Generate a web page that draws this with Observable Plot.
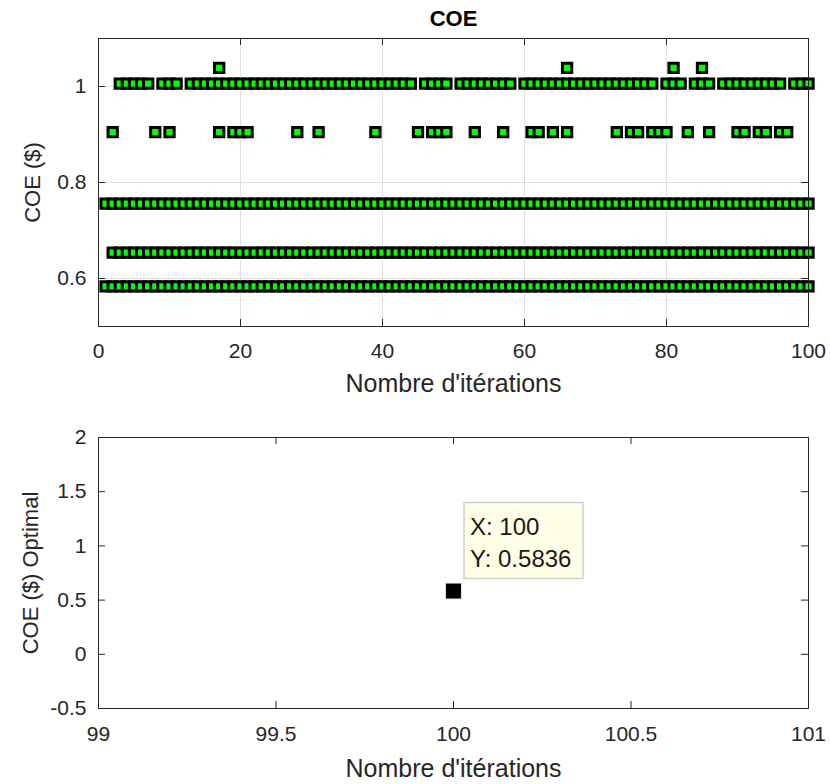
<!DOCTYPE html>
<html><head><meta charset="utf-8">
<script src="https://cdn.jsdelivr.net/npm/d3@7"></script>
<script src="https://cdn.jsdelivr.net/npm/@observablehq/plot@0.6"></script>
<style>
body{margin:0;background:#fff;}
#chart{width:830px;height:784px;position:relative;font-family:"Liberation Sans",Arial,sans-serif;}
#chart svg{display:block;}
</style></head><body><div id="chart"></div>
<script>
// ---- data ----
const allIterations = d3.range(1, 101); // x categories 1..100
const rowValues = [1.039, 1.006, 0.905, 0.756, 0.654, 0.5836];
const itersRow1039 = [17, 66, 81, 85];
const itersRow1006 = [3,4,5,6,7, 9,10,11, 13,14,15,16,17,18,19,20,21,22,23,24,25,26,27,28,29,30,31,32,33,34,35,36,37,38,39,40,41,42,43,44,
  46,47,48,49, 51,52,53,54,55,56,57,58, 60,61,62,63,64,65,66,67,68,69,70,71,72,73,74,75,76,77,78,
  80,81,82, 84,85,86, 88,89,90,91,92,93,94,95,96, 98,99,100];
const itersRow0905 = [2,8,10,17,19,20,21,28,31,39,45,47,48,49,53,57,61,62,64,66,73,75,76,78,79,80,83,86,90,91,93,94,96,97];
const itersRow0756 = allIterations;
const itersRow0654 = allIterations.filter(i => i !== 1);
const itersRow05836 = allIterations;
const optX = [100];
const optY = [0.5836];
const topXTicks = [0, 20, 40, 60, 80, 100];
const topYTicks = [0.6, 0.8, 1];
const botXTicks = [99, 99.5, 100, 100.5, 101];
const botYTicks = [-0.5, 0, 0.5, 1, 1.5, 2];
const xLabel = "Nombre d'itérations";
const topYLabel = "COE ($)";
const botYLabel = "COE ($) Optimal";
const titleText = "COE";

// ---- build table ----
const rows = [itersRow1039, itersRow1006, itersRow0905, itersRow0756, itersRow0654, itersRow05836];
const points = [];
rows.forEach((its, k) => its.forEach(i => points.push({x: i, y: rowValues[k]})));

const INK = "#262626";
const FONT = "'Liberation Sans', Arial, Helvetica, sans-serif";
const fmt = d => String(d);
const TICKFS = 21;

function boxTicks(xt, yt, innerW, innerH, len) {
  return [
    Plot.tickX(xt, {x: d => d, insetTop: innerH - len, stroke: INK}),
    Plot.tickX(xt, {x: d => d, insetBottom: innerH - len, stroke: INK}),
    Plot.tickY(yt, {y: d => d, insetRight: innerW - len, stroke: INK}),
    Plot.tickY(yt, {y: d => d, insetLeft: innerW - len, stroke: INK}),
    Plot.frame({stroke: INK, strokeWidth: 1})
  ];
}

// ---- top chart ----
const W = 830, H1 = 400, mL = 98, mR = 22, mT1 = 38, mB1 = 74;
const topChart = Plot.plot({
  width: W, height: H1, marginLeft: mL, marginRight: mR, marginTop: mT1, marginBottom: mB1,
  style: {fontFamily: FONT, fontSize: TICKFS + "px", color: INK, background: "white", overflow: "visible"},
  x: {domain: [0, 100]},
  y: {domain: [0.5, 1.1]},
  marks: [
    Plot.gridX(topXTicks, {stroke: "#dfdfdf", strokeOpacity: 1}),
    Plot.gridY(topYTicks, {stroke: "#dfdfdf", strokeOpacity: 1}),
    Plot.dot(points, {x: "x", y: "y", symbol: "square", r: 5.25, fill: "#00ff00", stroke: "black", strokeWidth: 3}),
    ...boxTicks(topXTicks, topYTicks, W - mL - mR, H1 - mT1 - mB1, 7),
    Plot.axisX({ticks: topXTicks, tickSize: 0, tickPadding: 17, label: null, tickFormat: fmt, fontSize: TICKFS}),
    Plot.axisY({ticks: topYTicks, tickSize: 0, tickPadding: 12, label: null, tickFormat: fmt, fontSize: TICKFS}),
    Plot.text([xLabel], {text: d => d, frameAnchor: "bottom", textAnchor: "middle", lineAnchor: "middle", dy: 57, fontSize: 25, fill: INK}),
    Plot.text([topYLabel], {text: d => d, frameAnchor: "left", textAnchor: "middle", lineAnchor: "middle", rotate: -90, dx: -66, fontSize: 22, fill: INK}),
    Plot.text([titleText], {text: d => d, frameAnchor: "top", textAnchor: "middle", lineAnchor: "middle", dy: -20, fontSize: 22, fontWeight: "bold", fill: "black"})
  ]
});

// ---- bottom chart ----
const H2 = 384, mT2 = 37, mB2 = 76;
const datatip = (index, scales) => {
  const px = scales.x(optX[0]), py = scales.y(optY[0]);
  const g = d3.create("svg:g").attr("text-anchor", "start");
  const bx = px + 11, by = py - 88;
  g.append("rect").attr("x", bx).attr("y", by).attr("width", 119).attr("height", 76)
    .attr("fill", "#ffffe8").attr("stroke", "#d0d0d0").attr("stroke-width", 1.5);
  g.append("text").attr("x", bx + 6).attr("y", by + 24).attr("dy", "0.35em").attr("text-anchor", "start")
    .attr("font-size", 24).attr("fill", "#1a1a1a").text(`X: ${optX[0]}`);
  g.append("text").attr("x", bx + 6).attr("y", by + 56).attr("dy", "0.35em").attr("text-anchor", "start")
    .attr("font-size", 24).attr("fill", "#1a1a1a").text(`Y: ${optY[0]}`);
  return g.node();
};
const botChart = Plot.plot({
  width: W, height: H2, marginLeft: mL, marginRight: mR, marginTop: mT2, marginBottom: mB2,
  style: {fontFamily: FONT, fontSize: TICKFS + "px", color: INK, background: "white", overflow: "visible"},
  x: {domain: [99, 101]},
  y: {domain: [-0.5, 2]},
  marks: [
    Plot.dot(optX.map((x, i) => ({x, y: optY[i]})), {x: "x", y: "y", symbol: "square", r: 9, fill: "black", stroke: "#e9e9d0", strokeWidth: 1}),
    datatip,
    ...boxTicks(botXTicks, botYTicks, W - mL - mR, H2 - mT2 - mB2, 7),
    Plot.axisX({ticks: botXTicks, tickSize: 0, tickPadding: 18, label: null, tickFormat: fmt, fontSize: TICKFS}),
    Plot.axisY({ticks: botYTicks, tickSize: 0, tickPadding: 12, label: null, tickFormat: fmt, fontSize: TICKFS}),
    Plot.text([xLabel], {text: d => d, frameAnchor: "bottom", textAnchor: "middle", lineAnchor: "middle", dy: 60, fontSize: 25, fill: INK}),
    Plot.text([botYLabel], {text: d => d, frameAnchor: "left", textAnchor: "middle", lineAnchor: "middle", rotate: -90, dx: -68, fontSize: 22, fill: INK})
  ]
});

const root = document.getElementById("chart");
root.append(topChart, botChart);
</script></body></html>
